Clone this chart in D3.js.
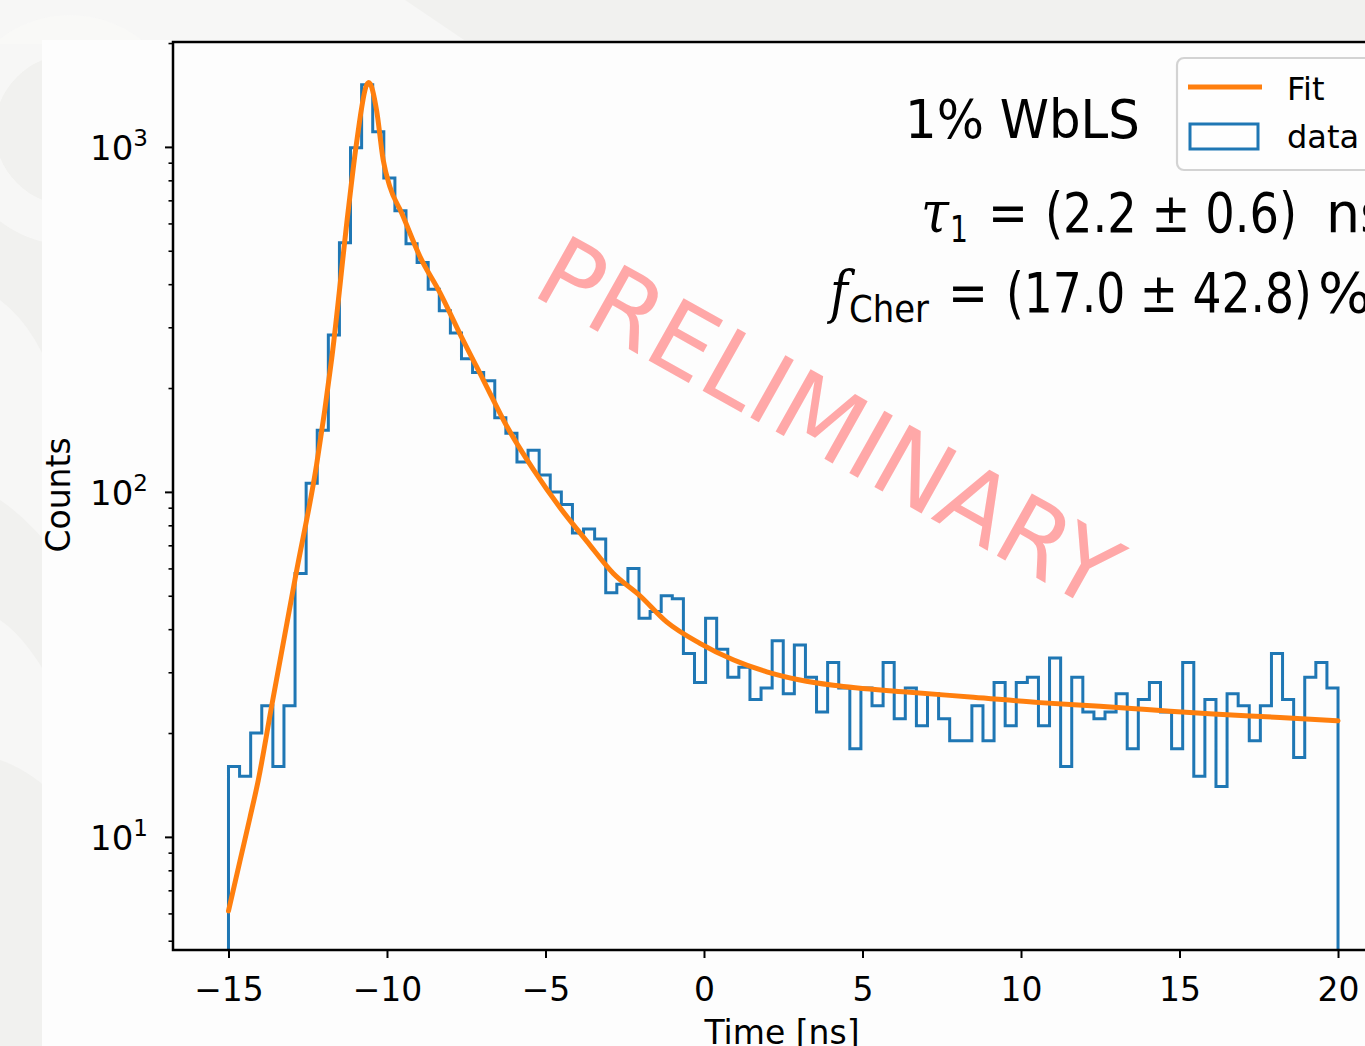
<!DOCTYPE html>
<html><head><meta charset="utf-8">
<script src="https://cdn.jsdelivr.net/npm/d3@7"></script>
<style>html,body{margin:0;padding:0;background:#f1f1ef;} svg{display:block}</style>
</head><body><svg id="c" width="1365" height="1046"></svg>
<script>
// ---------------- data ----------------
const binStart = -15, binWidth = 0.35;
const counts = [16,15,20,24,16,24,58,106,151,285,
  527,995,1513,1107,813,653,524,462,387,335,
  289,243,222,210,164,148,122,132,112,100,
  92,76,78,73,51,54,60,43,45,50,
  49,34,28,43,35,29,31,25,27,37,
  26,36,29,23,32,27,18,27,24,32,
  22,27,21,26,22,19,19,24,19,28,
  21,28,29,21,33,16,29,23,22,23,
  26,18,25,28,23,18,32,15,25,14,
  26,24,19,24,34,25,17,29,32,27];
const fitX = [-15.0,-14.64,-14.32,-14.06,-13.64,-12.87,-12.22,-11.74,-11.22,-10.96,-10.64,-10.57,-10.33,-10.12,-9.91,-9.54,-8.96,-8.33,-7.64,-6.96,-6.22,-5.38,-4.54,-3.70,-2.86,-2.02,-1.18,-0.13,0.92,1.98,3.03,4.08,6.39,8.50,10.60,12.49,13.97,16.07,18.17,20.0];
const fitY = [6.1,8.5,11.4,14.6,23.9,57.8,120,245,657,1027,1512,1536,1280,917,767,644,481,378,280,211,155,116,90,72,58,50,42,36.4,32.6,30.1,28.5,27.5,26.3,25.4,24.5,23.9,23.4,22.7,22.2,21.7];
const xTicks = [-15,-10,-5,0,5,10,15,20];
const yMajorTicks = [10,100,1000];
const yMajorExp = ["1","2","3"];
const yMinorTicks = [5,6,7,8,9,20,30,40,50,60,70,80,90,200,300,400,500,600,700,800,900,2000];
const xDomain = [-16.75, 21.75];
const yDomain = [4.70, 2014];
const legendLabels = ["Fit","data"];
const titleText = "1% WbLS";

// ---------------- setup ----------------
const svg = d3.select("#c");
const W = 1365, H = 1046;
const L = 173, T = 42, B = 950, R = 1393.5;
const x = d3.scaleLinear().domain(xDomain).range([L, R]);
const y = d3.scaleLog().domain(yDomain).range([B, T]);
const blue = "#1f77b4", orange = "#ff7f0e";
const font = "'DejaVu Sans', sans-serif";

// background (slide)
svg.append("rect").attr("width", W).attr("height", H).attr("fill", "#f1f1ef");
svg.append("path").attr("d", "M0,0 L405,0 L470,44 L0,44 Z").attr("fill", "#f7f7f6");
svg.append("circle").attr("cx", 70).attr("cy", 130).attr("r", 95)
  .attr("fill", "none").attr("stroke", "#f9f9f8").attr("stroke-width", 40).attr("opacity", 0.8);
svg.append("path").attr("d", "M0,300 Q40,330 60,400 L60,560 Q30,520 0,500 Z").attr("fill", "#f7f7f6");
svg.append("path").attr("d", "M0,620 Q30,640 60,700 L60,800 Q30,770 0,760 Z").attr("fill", "#f7f7f6");

// figure white area
svg.append("rect").attr("x", 42).attr("y", 40).attr("width", W - 42).attr("height", H - 40).attr("fill", "#fdfdfd");

// clip
svg.append("defs").append("clipPath").attr("id", "plotclip")
  .append("rect").attr("x", L).attr("y", T).attr("width", R - L).attr("height", B - T);

// watermark
svg.append("text").attr("transform", "translate(812,452) rotate(29.3)")
  .attr("text-anchor", "middle").attr("font-family", font).attr("font-size", 98)
  .attr("fill", "#ffa8a8").text("PRELIMINARY");

// histogram step path
const edges = d3.range(counts.length + 1).map(i => binStart + i * binWidth);
const stepPts = [[edges[0], yDomain[0]]];
counts.forEach((c, i) => { stepPts.push([edges[i], c]); stepPts.push([edges[i + 1], c]); });
stepPts.push([edges[counts.length], yDomain[0]]);
const g = svg.append("g").attr("clip-path", "url(#plotclip)");
g.append("path").attr("d", d3.line().x(d => x(d[0])).y(d => y(d[1]))(stepPts))
  .attr("fill", "none").attr("stroke", blue).attr("stroke-width", 3).attr("stroke-linejoin", "miter");

// fit curve
const fitPts = fitX.map((v, i) => [v, fitY[i]]);
g.append("path").attr("d", d3.line().x(d => x(d[0])).y(d => y(d[1])).curve(d3.curveMonotoneX)(fitPts))
  .attr("fill", "none").attr("stroke", orange).attr("stroke-width", 5).attr("stroke-linecap", "round")
  .attr("stroke-linejoin", "round");

// axes
const xAxis = svg.append("g").attr("transform", `translate(0,${B})`)
  .call(d3.axisBottom(x).tickValues(xTicks).tickSize(8).tickPadding(10)
    .tickFormat(d => d < 0 ? "\u2212" + Math.abs(d) : String(d)));
xAxis.select(".domain").remove();
xAxis.selectAll(".tick line").attr("stroke", "#000").attr("stroke-width", 2);
xAxis.selectAll(".tick text").attr("font-family", font).attr("font-size", 33).attr("fill", "#000")
  .attr("dy", null).attr("y", 51);

const yMinor = svg.append("g").attr("transform", `translate(${L},0)`)
  .call(d3.axisLeft(y).tickValues(yMinorTicks).tickSize(4.5).tickFormat(""));
yMinor.select(".domain").remove();
yMinor.selectAll(".tick line").attr("stroke", "#000").attr("stroke-width", 1.6);

const yMajor = svg.append("g").attr("transform", `translate(${L},0)`)
  .call(d3.axisLeft(y).tickValues(yMajorTicks).tickSize(8).tickFormat(""));
yMajor.select(".domain").remove();
yMajor.selectAll(".tick line").attr("stroke", "#000").attr("stroke-width", 2);
yMajorTicks.forEach((v, i) => {
  const t = svg.append("text").attr("x", 148).attr("y", y(v) + 13)
    .attr("text-anchor", "end").attr("font-family", font).attr("font-size", 34).attr("fill", "#000");
  t.append("tspan").text("10");
  t.append("tspan").attr("dy", -14).attr("font-size", 23).text(yMajorExp[i]);
});

// spines
svg.append("rect").attr("x", L).attr("y", T).attr("width", R - L).attr("height", B - T)
  .attr("fill", "none").attr("stroke", "#000").attr("stroke-width", 2.5);

// axis labels
svg.append("text").attr("x", x(0) + 78).attr("y", 1044).attr("text-anchor", "middle")
  .attr("font-family", font).attr("font-size", 33).attr("fill", "#000").text("Time [ns]");
svg.append("text").attr("transform", "translate(70,495) rotate(-90)").attr("text-anchor", "middle")
  .attr("font-family", font).attr("font-size", 33).attr("fill", "#000").text("Counts");

// legend
const lg = svg.append("g");
lg.append("rect").attr("x", 1177).attr("y", 58).attr("width", 260).attr("height", 112).attr("rx", 7)
  .attr("fill", "#fefefe").attr("stroke", "#d3d3d3").attr("stroke-width", 2.2);
lg.append("line").attr("x1", 1188).attr("x2", 1262).attr("y1", 87).attr("y2", 87)
  .attr("stroke", orange).attr("stroke-width", 5);
lg.append("rect").attr("x", 1190).attr("y", 124).attr("width", 68).attr("height", 25)
  .attr("fill", "none").attr("stroke", blue).attr("stroke-width", 3);
lg.append("text").attr("x", 1287).attr("y", 100).attr("font-family", font).attr("font-size", 32)
  .attr("fill", "#000").text(legendLabels[0]);
lg.append("text").attr("x", 1287).attr("y", 148).attr("font-family", font).attr("font-size", 32)
  .attr("fill", "#000").text(legendLabels[1]);

// annotation texts (horizontally scaled to the reference widths)
const sans = "'DejaVu Sans', sans-serif";
const serif = "'DejaVu Serif', 'Liberation Serif', serif";
function txt(xp, yp, s, size, fam, opts = {}) {
  const t = svg.append("text").attr("x", 0).attr("y", 0).attr("font-family", fam)
    .attr("font-size", size).attr("fill", "#000").text(s);
  if (opts.italic) t.attr("font-style", "italic");
  let sx = 1;
  if (opts.w) { const n = t.node().getComputedTextLength(); if (n > 0) sx = opts.w / n; }
  t.attr("transform", `translate(${xp},${yp}) scale(${sx},1)`);
  return t;
}
txt(905, 138, titleText, 54, sans, {w: 235});
// tau line
txt(921, 232, "\u03c4", 58, serif, {italic: true, w: 28});
txt(950, 242, "1", 38, sans, {w: 18});
txt(988, 232, "=", 56, sans, {w: 40});
txt(1045, 232, "(2.2 \u00b1 0.6)", 56, sans, {w: 252});
txt(1326, 232, "ns", 56, sans, {w: 62});
// f line
txt(830, 312, "f", 58, serif, {italic: true, w: 18});
txt(849, 322, "Cher", 38, sans, {w: 80});
txt(948, 312, "=", 56, sans, {w: 40});
txt(1006, 312, "(17.0 \u00b1 42.8)", 56, sans, {w: 306});
txt(1318, 312, "%", 56, sans);
</script></body></html>
